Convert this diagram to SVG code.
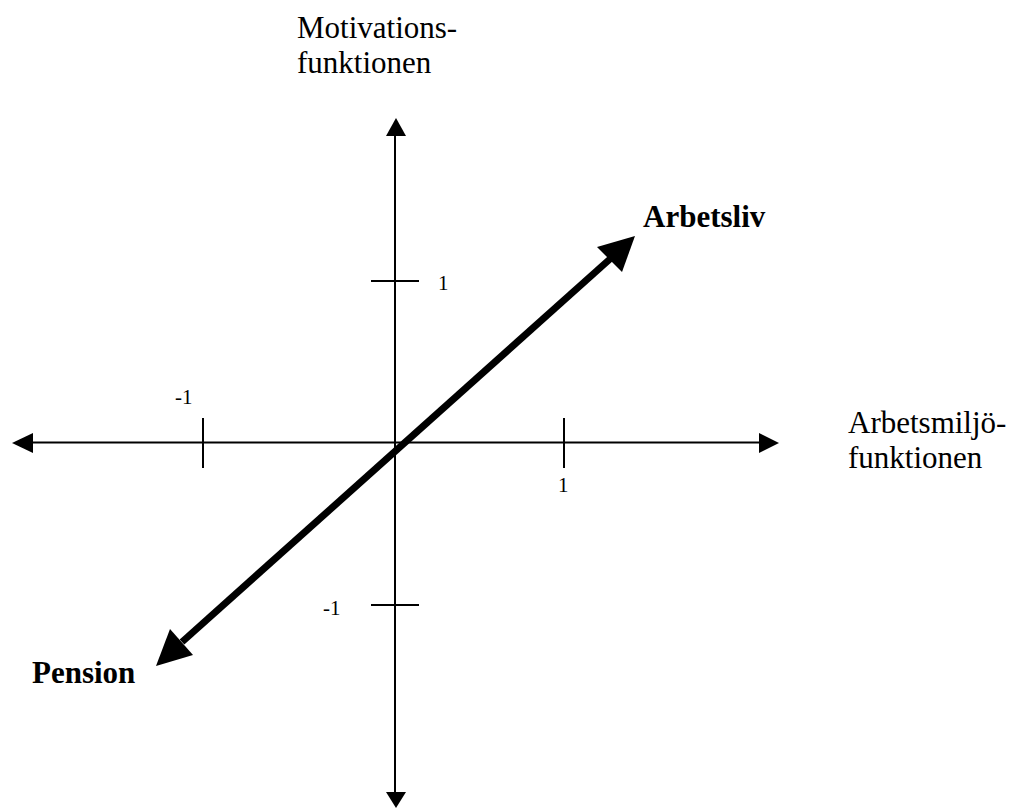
<svg xmlns="http://www.w3.org/2000/svg" width="1012" height="809" viewBox="0 0 1012 809">
<style>
.ax{stroke:#000;stroke-width:2;fill:none}
.t{font-family:"Liberation Serif","Times New Roman",serif;font-size:31px;fill:#000}
.b{font-weight:bold}
.n{font-family:"Liberation Serif","Times New Roman",serif;font-size:21px;fill:#000}
.h{fill:#000;stroke:none}
</style>
<rect width="1012" height="809" fill="#fff"/>
<g id="connectors">
<line class="ax" x1="395" y1="134" x2="395" y2="794"/>
<polygon class="h" points="396,118 386,136 406,136"/>
<polygon class="h" points="396,808 386,792 406,792"/>
<line class="ax" x1="32" y1="442.5" x2="760" y2="442.5"/>
<polygon class="h" points="12,443 33,433 33,453"/>
<polygon class="h" points="779,443 759,433 759,453"/>
<line class="ax" x1="371" y1="281" x2="419" y2="281"/>
<line class="ax" x1="371" y1="605" x2="419" y2="605"/>
<line class="ax" x1="203" y1="418" x2="203" y2="468"/>
<line class="ax" x1="564" y1="418" x2="564" y2="468"/>
<line stroke="#000" stroke-width="7" x1="182" y1="642" x2="610" y2="259"/>
<polygon class="h" points="635,236 597,247 622,272"/>
<polygon class="h" points="156,666 170,629 193,655"/>
</g>
<g id="y-label"><text class="t" x="297" y="38">Motivations-</text><text class="t" x="297" y="73">funktionen</text></g>
<g id="x-label"><text class="t" x="848" y="433">Arbetsmiljö-</text><text class="t" x="848" y="468">funktionen</text></g>
<g id="arbetsliv"><text class="t b" x="643" y="227">Arbetsliv</text></g>
<g id="pension"><text class="t b" x="32" y="683">Pension</text></g>
<g id="ticks">
<text class="n" x="438" y="290">1</text>
<text class="n" x="175" y="404">-1</text>
<text class="n" x="558" y="492">1</text>
<text class="n" x="323" y="615">-1</text>
</g>
</svg>
